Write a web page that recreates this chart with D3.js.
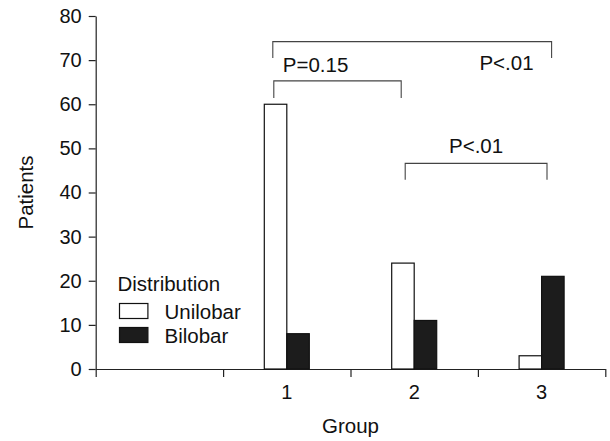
<!DOCTYPE html>
<html>
<head>
<meta charset="utf-8">
<script src="https://cdn.jsdelivr.net/npm/d3@7"></script>
<style>
  body { margin: 0; background: #fff; }
  svg { display: block; font-family: "Liberation Sans", Arial, sans-serif; }
  .axis path, .axis line { stroke: #222; stroke-width: 1.2; }
  .axis text { font-size: 20px; fill: #111; font-family: "Liberation Sans", Arial, sans-serif; }
  .bracket { fill: none; stroke: #444; stroke-width: 1.1; }
  .label { font-size: 20.5px; fill: #111; }
</style>
</head>
<body>
<svg></svg>
<script>
const w = 610;
const h = 441;
const m = { top: 16, right: 4.7, bottom: 72, left: 95.7 };

// Data
const groups = ["", "1", "2", "3"];
const series = ["Unilobar", "Bilobar"];
const unilobar = [null, 60, 24, 3];
const bilobar = [null, 8, 11, 21];
const yTicks = [0, 10, 20, 30, 40, 50, 60, 70, 80];
// comparisons: from group, to group, bracket level, leg bottom level, label
const brackets = [
  { from: "1", to: "3", top: 74.2, bottom: 70.5, label: "P<.01" },
  { from: "1", to: "2", top: 65.3, bottom: 61.4, label: "P=0.15" },
  { from: "2", to: "3", top: 46.6, bottom: 42.9, label: "P<.01" }
];

const svg = d3.select("svg")
    .attr("width", w)
    .attr("height", h);

const x = d3.scaleBand()
    .domain(groups)
    .range([m.left, w - m.right]);

const xEdge = d3.scaleLinear()
    .domain([0, groups.length])
    .range([m.left, w - m.right]);

const y = d3.scaleLinear()
    .domain([0, 80])
    .range([h - m.bottom, m.top]);

const bw = 22.5;
const fill = { Unilobar: "#fff", Bilobar: "#1c1c1c" };

// Axes
svg.append("g")
    .attr("class", "axis")
    .attr("transform", `translate(${m.left},0)`)
    .call(d3.axisLeft(y).tickValues(yTicks).tickSize(7).tickSizeOuter(0).tickPadding(7));

svg.append("g")
    .attr("class", "axis")
    .attr("transform", `translate(0,${h - m.bottom})`)
    .call(d3.axisBottom(xEdge).ticks(groups.length).tickFormat("").tickSize(8).tickSizeOuter(0));

svg.append("g")
    .attr("class", "axis")
    .attr("transform", `translate(0,${h - m.bottom})`)
    .call(d3.axisBottom(x).tickSize(0).tickPadding(16))
    .call(g => g.select(".domain").remove());

// Bars
const rows = groups.map((g, i) => ({ group: g, Unilobar: unilobar[i], Bilobar: bilobar[i] }))
    .filter(d => d.Unilobar !== null);

series.forEach((s, j) => {
  svg.selectAll(".bar-" + s)
      .data(rows)
      .enter()
      .append("rect")
      .attr("class", "bar-" + s)
      .attr("x", d => x(d.group) + x.bandwidth() / 2 + (j - 1) * bw)
      .attr("y", d => y(d[s]))
      .attr("width", bw)
      .attr("height", d => y(0) - y(d[s]))
      .attr("fill", fill[s])
      .attr("stroke", "#111")
      .attr("stroke-width", 1.2);
});

// Significance brackets (hand placed like the original)
const cx = g => x(g) + x.bandwidth() / 2;
const ends = [[-14, 10], [-13, -13], [-9, 5.4]];

brackets.forEach((b, i) => {
  const x0 = cx(b.from) + ends[i][0];
  const x1 = cx(b.to) + ends[i][1];
  const yt = y(b.top);
  const yb = y(b.bottom);
  svg.append("path")
      .attr("class", "bracket")
      .attr("d", `M${x0},${yb}V${yt}H${x1}V${yb}`);

  const t = svg.append("text").attr("class", "label").text(b.label);
  if (i === 0) t.attr("x", x1 - 18).attr("y", yt + 28.3).attr("text-anchor", "end");
  if (i === 1) t.attr("x", x0 + 9).attr("y", yt - 8.7);
  if (i === 2) t.attr("x", (x0 + x1) / 2).attr("y", yt - 10).attr("text-anchor", "middle");
});

// Legend
const lg = svg.append("g").attr("transform", "translate(117.5,291)");
lg.append("text").attr("class", "label").text("Distribution");
series.forEach((s, j) => {
  lg.append("rect")
      .attr("x", 2)
      .attr("y", 12.5 + j * 24)
      .attr("width", 28.4)
      .attr("height", 15)
      .attr("fill", fill[s])
      .attr("stroke", "#111")
      .attr("stroke-width", 1.2);
  lg.append("text")
      .attr("class", "label")
      .attr("x", 47)
      .attr("y", 28 + j * 24)
      .text(s);
});

// Axis titles
svg.append("text")
    .attr("class", "label")
    .attr("transform", `translate(33,${(m.top + h - m.bottom) / 2}) rotate(-90)`)
    .attr("text-anchor", "middle")
    .text("Patients");

svg.append("text")
    .attr("class", "label")
    .attr("x", (m.left + w - m.right) / 2)
    .attr("y", 433)
    .attr("text-anchor", "middle")
    .text("Group");
</script>
</body>
</html>
